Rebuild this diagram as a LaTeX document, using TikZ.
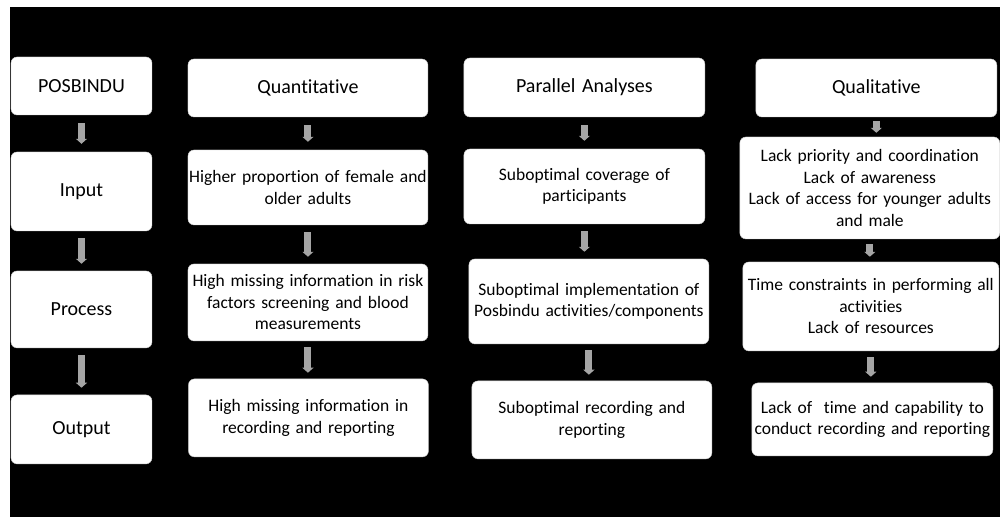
\documentclass[tikz,border=0pt]{standalone}
\usepackage{fontspec}
\setmainfont{Carlito}[Ligatures=NoCommon]
\usetikzlibrary{arrows.meta}

\definecolor{arrowgray}{RGB}{165,165,165}
\definecolor{boxline}{RGB}{200,200,200}

\begin{document}
\begin{tikzpicture}
  [x=1pt, y=-1pt,
   box/.style 2 args={draw=boxline, fill=white, rounded corners=6pt, align=center,
     inner xsep=0pt, text width=#1, minimum height=#2,
     font=\fontsize{17.5}{21.5}\selectfont},
   head/.style 2 args={box={#1}{#2}, font=\fontsize{20}{24}\selectfont},
   flow/.style={draw=arrowgray, line width=7pt, shorten <=#1, shorten >=#1,
     -{Triangle[width=11pt,length=5pt]}}]
  % page and dark panel
  \fill[white] (0,0) rectangle (1000,517);
  \fill[black] (10,7) rectangle (1000,517);

  % stages
  \node[head={141}{58}] (posbindu) at (81.5,86) {POSBINDU};
  \node[head={141}{79}] (input) at (81.5,191.5) {Input};
  \node[head={141}{77}] (process) at (81.5,309.5) {Process};
  \node[head={141}{69}] (output) at (81.5,429.5) {Output};

  % quantitative
  \node[head={240}{58}] (quant) at (308,88) {Quantitative};
  \node[box={240}{75}] (female) at (308,187.5)
    {Higher proportion of female and\\older adults};
  \node[box={240}{77}] (screening) at (308,302.5)
    {High missing information in risk\\factors screening and blood\\measurements};
  \node[box={240}{78}] (qnrecord) at (308.5,418)
    {High missing information in\\recording and reporting};

  % parallel analyses
  \node[head={241}{59}] (parallel) at (584.5,87.5) {Parallel Analyses};
  \node[box={241}{75}] (coverage) at (584.5,186.5)
    {Suboptimal coverage of\\participants};
  \node[box={240}{85}] (implement) at (589,301.5)
    {Suboptimal implementation of\\Posbindu activities/components};
  \node[box={240}{78}] (parecord) at (592,420)
    {Suboptimal recording and\\reporting};

  % qualitative
  \node[head={241}{58}] (qual) at (876.5,88) {Qualitative};
  \node[box={260}{102}] (priority) at (870,188)
    {Lack priority and coordination\\Lack of awareness\\Lack of access for younger adults\\and male};
  \node[box={256}{89}] (constraint) at (871,306.5)
    {Time constraints in performing all\\activities\\Lack of resources};
  \node[box={241}{73}] (capability) at (872.5,419.5)
    {Lack of\ \ time and capability to\\conduct recording and reporting};

  % downward arrows, with the gap left at each box
  \foreach \a/\b/\g in {posbindu/input/8pt, input/process/7pt, process/output/7pt,
                        quant/female/8pt, female/screening/7pt, screening/qnrecord/6pt,
                        parallel/coverage/8pt, coverage/implement/7pt, implement/parecord/6pt,
                        qual/priority/4pt, priority/constraint/5pt, constraint/capability/6pt}
    \draw[flow=\g] (\a.south) -- (\a.south |- \b.north);
\end{tikzpicture}
\end{document}
